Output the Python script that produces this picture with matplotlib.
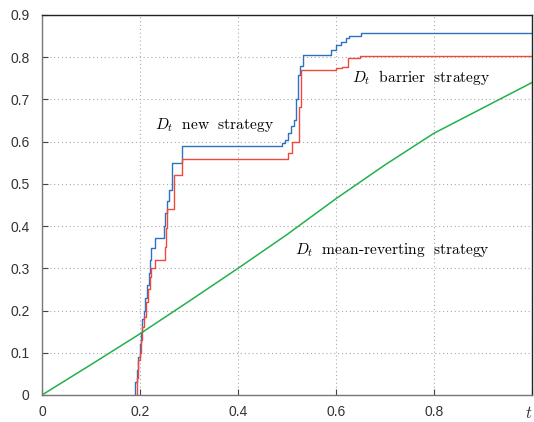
import matplotlib
matplotlib.use("Agg")
import matplotlib.pyplot as plt

plt.rcParams['mathtext.fontset'] = 'cm'
plt.rcParams['font.family'] = ['Liberation Sans', 'DejaVu Sans']

# new strategy (blue), step levels starting at each x
new_x = [0.0, 0.188, 0.190, 0.193, 0.196, 0.199, 0.202, 0.205, 0.208, 0.211, 0.214, 0.218, 0.221,
         0.223, 0.231, 0.248, 0.252, 0.256, 0.260, 0.266, 0.286, 0.489, 0.495, 0.502, 0.508,
         0.514, 0.519, 0.522, 0.527, 0.533, 0.590, 0.600, 0.610, 0.620, 0.626, 0.650, 1.0]
new_y = [-0.05, 0.0, 0.03, 0.06, 0.09, 0.12, 0.15, 0.18, 0.20, 0.23, 0.26, 0.29, 0.32,
         0.347, 0.373, 0.40, 0.43, 0.46, 0.486, 0.549, 0.59, 0.597, 0.603, 0.62, 0.636,
         0.652, 0.70, 0.758, 0.78, 0.806, 0.817, 0.829, 0.837, 0.845, 0.85, 0.858, 0.858]

# barrier strategy (red)
bar_x = [0.0, 0.192, 0.194, 0.196, 0.199, 0.202, 0.205, 0.208, 0.212, 0.216, 0.220, 0.223,
         0.231, 0.251, 0.253, 0.256, 0.270, 0.286, 0.503, 0.510, 0.525, 0.529, 0.601,
         0.612, 0.625, 0.649, 1.0]
bar_y = [-0.05, 0.0, 0.04, 0.083, 0.10, 0.13, 0.16, 0.185, 0.22, 0.25, 0.28, 0.30,
         0.32, 0.35, 0.396, 0.44, 0.52, 0.558, 0.573, 0.60, 0.683, 0.77, 0.775,
         0.778, 0.797, 0.804, 0.804]

# mean-reverting strategy (green)
mr_x = [0.0, 0.1, 0.2, 0.3, 0.4, 0.5, 0.6, 0.7, 0.8, 0.9, 1.0]
mr_y = [0.0, 0.072, 0.145, 0.222, 0.300, 0.380, 0.465, 0.545, 0.620, 0.680, 0.740]

xtick_vals = [0, 0.2, 0.4, 0.6, 0.8, 1.0]
xtick_labels = ['0', '0.2', '0.4', '0.6', '0.8', '$t$']
ytick_vals = [0, 0.1, 0.2, 0.3, 0.4, 0.5, 0.6, 0.7, 0.8, 0.9]
ytick_labels = ['0', '0.1', '0.2', '0.3', '0.4', '0.5', '0.6', '0.7', '0.8', '0.9']

fig = plt.figure(figsize=(5.34, 4.22), dpi=100)
ax = fig.add_axes([42/534, 1-395/422, 490/534, 380/422])

ax.step(new_x, new_y, where='post', color='#2c72c0', lw=1.0)
ax.step(bar_x, bar_y, where='post', color='#f0483a', lw=1.0)
ax.plot(mr_x, mr_y, color='#22b14c', lw=1.1)

ax.set_xlim(0, 1)
ax.set_ylim(0, 0.9)
ax.set_xticks(xtick_vals)
ax.set_xticklabels(xtick_labels)
ax.set_yticks(ytick_vals)
ax.set_yticklabels(ytick_labels)
ax.grid(True, color='#aaaaaa', linestyle=(0, (1, 2.5)), lw=0.8)
ax.tick_params(direction='in', length=4, width=0.8, labelsize=10, labelcolor='#333333',
               color='#444444')
ax.tick_params(axis='x', pad=7)
ax.tick_params(axis='y', pad=9)
xl = ax.get_xticklabels()
xl[-1].set_fontsize(12)
xl[-1].set_horizontalalignment('right')
for s in ['left', 'bottom']:
    ax.spines[s].set_color('#777777')
for s in ['top', 'right']:
    ax.spines[s].set_color('#222222')
for s in ax.spines.values():
    s.set_linewidth(1.0)

ax.text(0.23, 0.64, r'$D_t\ \ \mathrm{new\ \ strategy}$', fontsize=11.2, va='center', ha='left')
ax.text(0.633, 0.751, r'$D_t\ \ \mathrm{barrier\ \ strategy}$', fontsize=11.2, va='center', ha='left')
ax.text(0.516, 0.344, r'$D_t\ \ \mathrm{mean\text{-}reverting\ \ strategy}$', fontsize=11.2, va='center', ha='left')

fig.savefig('out.png', dpi=100)
